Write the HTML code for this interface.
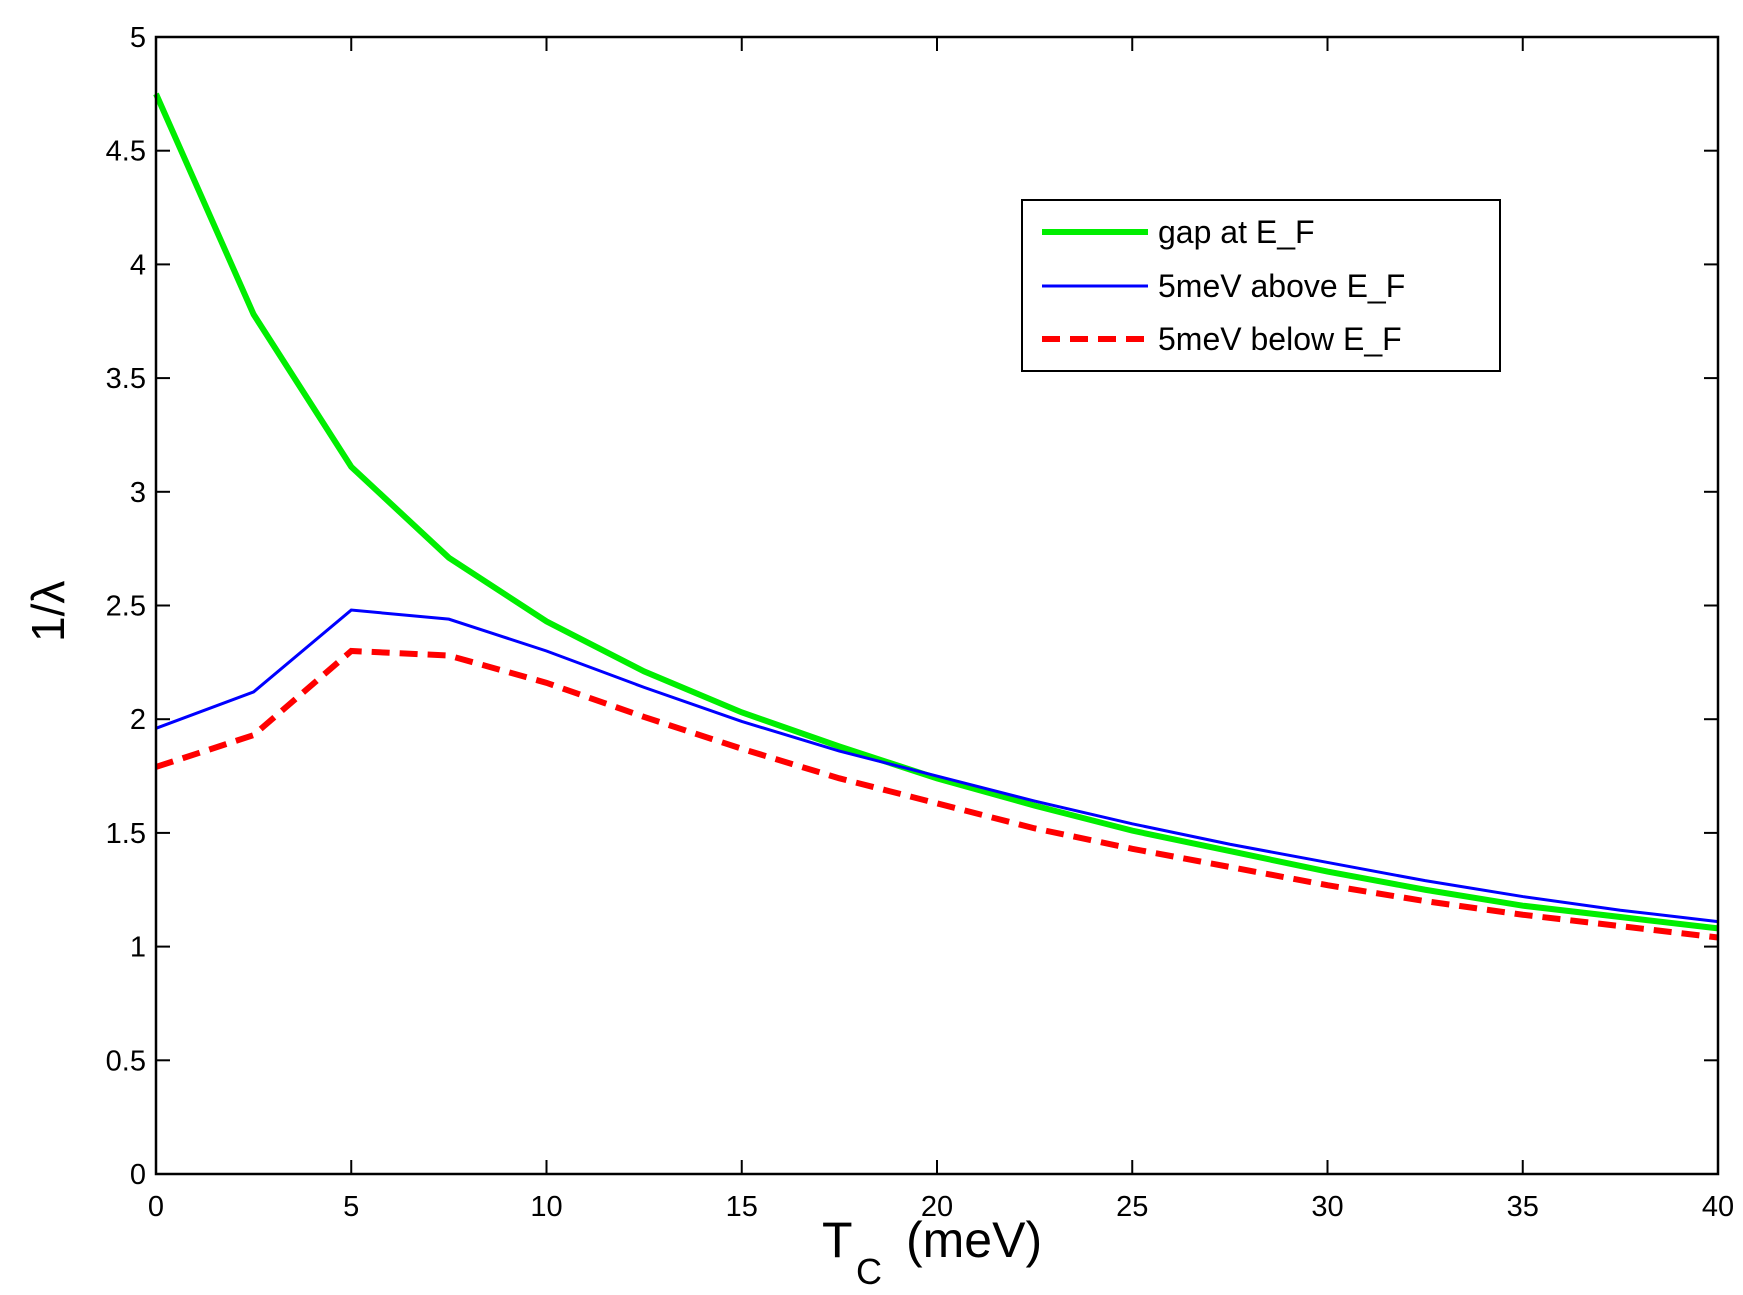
<!DOCTYPE html>
<html><head><meta charset="utf-8"><style>
html,body{margin:0;padding:0;background:#fff;width:1743px;height:1295px;overflow:hidden}
svg text{font-family:"Liberation Sans",sans-serif;fill:#000}
</style></head><body>
<svg id="s" width="1743" height="1295" viewBox="0 0 1743 1295" xmlns="http://www.w3.org/2000/svg">
<rect x="0" y="0" width="1743" height="1295" fill="#fff"/>
<g id="ticks" stroke="#000" stroke-width="2"></g>
<g id="lbl" font-size="29"></g>
<g id="data" fill="none"></g>
<rect x="156" y="37" width="1562" height="1137" fill="none" stroke="#000" stroke-width="2.5"/>
<text x="822" y="1257" font-size="50">T</text>
<text x="856" y="1284" font-size="36">C</text>
<text x="906" y="1257" font-size="50">(meV)</text>
<text transform="translate(64,642) rotate(-90)" font-size="46">1/λ</text>
<rect x="1022" y="200" width="478" height="171" fill="#fff" stroke="#000" stroke-width="2"/>
<line x1="1042" y1="232" x2="1148" y2="232" stroke="#00ee00" stroke-width="6"/>
<line x1="1042" y1="286" x2="1148" y2="286" stroke="#0000ff" stroke-width="3"/>
<line x1="1042" y1="339" x2="1148" y2="339" stroke="#ff0000" stroke-width="6" stroke-dasharray="18,10"/>
<text x="1158" y="243" font-size="32">gap at E_F</text>
<text x="1158" y="297" font-size="32">5meV above E_F</text>
<text x="1158" y="350" font-size="32">5meV below E_F</text>
</svg>
<script>
var X=function(v){return 156+v*39.05},Y=function(v){return 1174-v*227.4};
var t='',l='';
for(var i=0;i<=8;i++){var x=X(i*5);t+='<line x1="'+x+'" y1="1174" x2="'+x+'" y2="1160"/><line x1="'+x+'" y1="37" x2="'+x+'" y2="51"/>';
l+='<text x="'+x+'" y="1216" text-anchor="middle">'+(i*5)+'</text>';}
for(var j=0;j<=10;j++){var y=Y(j*0.5);t+='<line x1="156" y1="'+y+'" x2="170" y2="'+y+'"/><line x1="1704" y1="'+y+'" x2="1718" y2="'+y+'"/>';
l+='<text x="146" y="'+(y+10)+'" text-anchor="end">'+(j*0.5)+'</text>';}
document.getElementById('ticks').innerHTML=t;document.getElementById('lbl').innerHTML=l;
var g=[4.75,3.78,3.11,2.71,2.43,2.21,2.03,1.88,1.74,1.62,1.51,1.42,1.33,1.25,1.18,1.13,1.08];
var b=[1.96,2.12,2.48,2.44,2.30,2.14,1.99,1.86,1.75,1.64,1.54,1.45,1.37,1.29,1.22,1.16,1.11];
var r=[1.79,1.93,2.30,2.28,2.16,2.01,1.87,1.74,1.63,1.52,1.43,1.35,1.27,1.20,1.14,1.09,1.04];
function p(a){return a.map(function(v,i){return X(i*2.5)+','+Y(v)}).join(' ')}
document.getElementById('data').innerHTML=
'<polyline points="'+p(g)+'" stroke="#00ee00" stroke-width="6"/>'+
'<polyline points="'+p(b)+'" stroke="#0000ff" stroke-width="3"/>'+
'<polyline points="'+p(r)+'" stroke="#ff0000" stroke-width="6" stroke-dasharray="18,10"/>';
</script>
</body></html>
